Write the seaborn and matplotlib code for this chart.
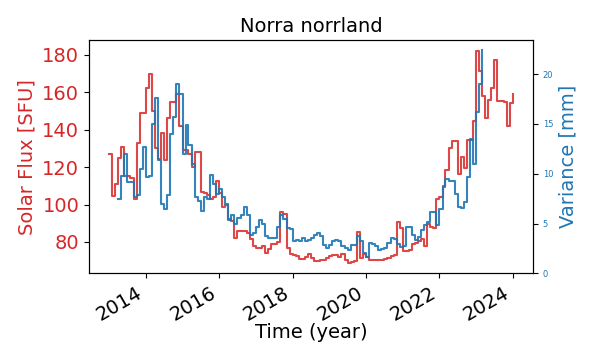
import pandas as pd
import numpy as np
import matplotlib
matplotlib.use('Agg')
import matplotlib.pyplot as plt
import matplotlib.dates as mdates
from matplotlib.ticker import MultipleLocator
import seaborn as sns

### monthly solar flux (SFU), Jan 2013 -> Jan 2024
flux = [127, 104.5, 111, 125, 131, 115.5, 115, 114, 103, 133,
        149, 149, 162.5, 170, 150, 130, 124.5, 138, 124, 146,
        155, 155, 159, 142, 129, 129, 127, 120, 128, 128,
        106.6, 106, 105, 103, 104, 112.4, 106, 98.5, 100, 92.2,
        91, 82.3, 86, 86, 86, 85, 81.4, 77.8, 76.5, 76.5,
        77.8, 74.2, 76, 78.7, 79, 80, 95.8, 95, 77, 73.3,
        73, 72.4, 71, 70.7, 72, 73.3, 71.5, 69.7, 70, 70.3,
        70.5, 71.5, 72.4, 72.8, 72.8, 72, 73.3, 70.5, 68.9, 69.5,
        70, 85.4, 71.5, 73.3, 72, 70.6, 70.5, 70.5, 70.2, 70.5,
        71, 71.5, 72.4, 73, 90.4, 87.7, 75, 75, 75.5, 78.7,
        79.3, 80.5, 81.4, 78, 89.5, 88, 87.7, 103, 104, 110,
        118.4, 130.4, 134, 134, 116.5, 125.6, 119.3, 134.6, 134.6, 144.5,
        182.3, 171.5, 158, 146, 156, 162.5, 177.3, 155.3, 155.5, 155,
        141.8, 154.5, 159.2]

### monthly variance (mm), Apr 2013 -> Nov 2022
variance = [7.5, 9.75, 12.0, 9.2, 9.2, 7.7, 7.9, 10.5, 12.7, 9.7,
            9.8, 15.0, 17.6, 11.35, 7.0, 6.5, 7.85, 14.0, 15.7, 19.0,
            18.0, 12.0, 14.9, 12.85, 11.0, 7.7, 7.3, 6.3, 7.7, 7.5,
            9.85, 9.0, 8.0, 8.5, 7.7, 7.0, 5.35, 5.85, 5.0, 5.6,
            5.85, 6.7, 5.85, 3.85, 4.0, 4.7, 5.35, 5.0, 3.7, 3.5,
            3.5, 3.5, 4.7, 5.85, 5.5, 4.5, 4.4, 3.2, 3.3, 3.2,
            3.5, 3.2, 3.35, 3.5, 3.85, 4.0, 3.7, 2.85, 2.5, 2.85,
            3.2, 3.3, 3.2, 2.7, 2.5, 2.3, 2.85, 2.8, 3.7, 3.2,
            2.0, 1.65, 3.0, 2.9, 2.7, 2.3, 2.4, 2.5, 3.0, 3.5,
            3.4, 2.9, 2.65, 2.7, 4.7, 4.7, 3.85, 3.35, 3.6, 4.35,
            4.85, 5.2, 6.2, 6.2, 4.85, 6.5, 8.7, 9.5, 9.3, 9.3,
            8.0, 6.7, 6.6, 7.2, 9.7, 13.5, 11.0, 16.2, 19.0, 22.4]

df_flux = pd.DataFrame({'time': pd.date_range('2013-01-01', periods=len(flux), freq='MS'),
                        'flux': flux})
df_var = pd.DataFrame({'time': pd.date_range('2013-04-01', periods=len(variance), freq='MS'),
                       'variance': variance})

red = 'tab:red'
blue = 'tab:blue'

fig = plt.figure(figsize=(6.03, 3.52), dpi=100)
ax = fig.add_axes([0.1476, 0.2236, 0.7363, 0.6628])

sns.lineplot(data=df_flux, x='time', y='flux', ax=ax, color=red, alpha=0.85,
             linewidth=1.5, drawstyle='steps-post', legend=False)
ax.set_ylabel('Solar Flux [SFU]', color=red, fontsize=14)
ax.set_xlabel('Time (year)', fontsize=14, labelpad=-1)
ax.yaxis.set_major_locator(MultipleLocator(20))
ax.tick_params(axis='y', labelcolor=red, labelsize=14)
ax.tick_params(axis='x', labelsize=14)

ax2 = ax.twinx()
sns.lineplot(data=df_var, x='time', y='variance', ax=ax2, color=blue, alpha=0.9,
             linewidth=1.5, drawstyle='steps-post', legend=False)
ax2.set_ylim(bottom=0)
ax2.set_ylabel('Variance [mm]', color=blue, fontsize=14)
ax2.tick_params(axis='y', labelcolor=blue, labelsize=6)

ax.xaxis.set_major_locator(mdates.YearLocator(2))
ax.xaxis.set_major_formatter(mdates.DateFormatter('%Y'))
plt.setp(ax.get_xticklabels(), rotation=30, ha='right')

ax.set_title('Norra norrland', fontsize=14)

fig.savefig('out.png', dpi=100)
